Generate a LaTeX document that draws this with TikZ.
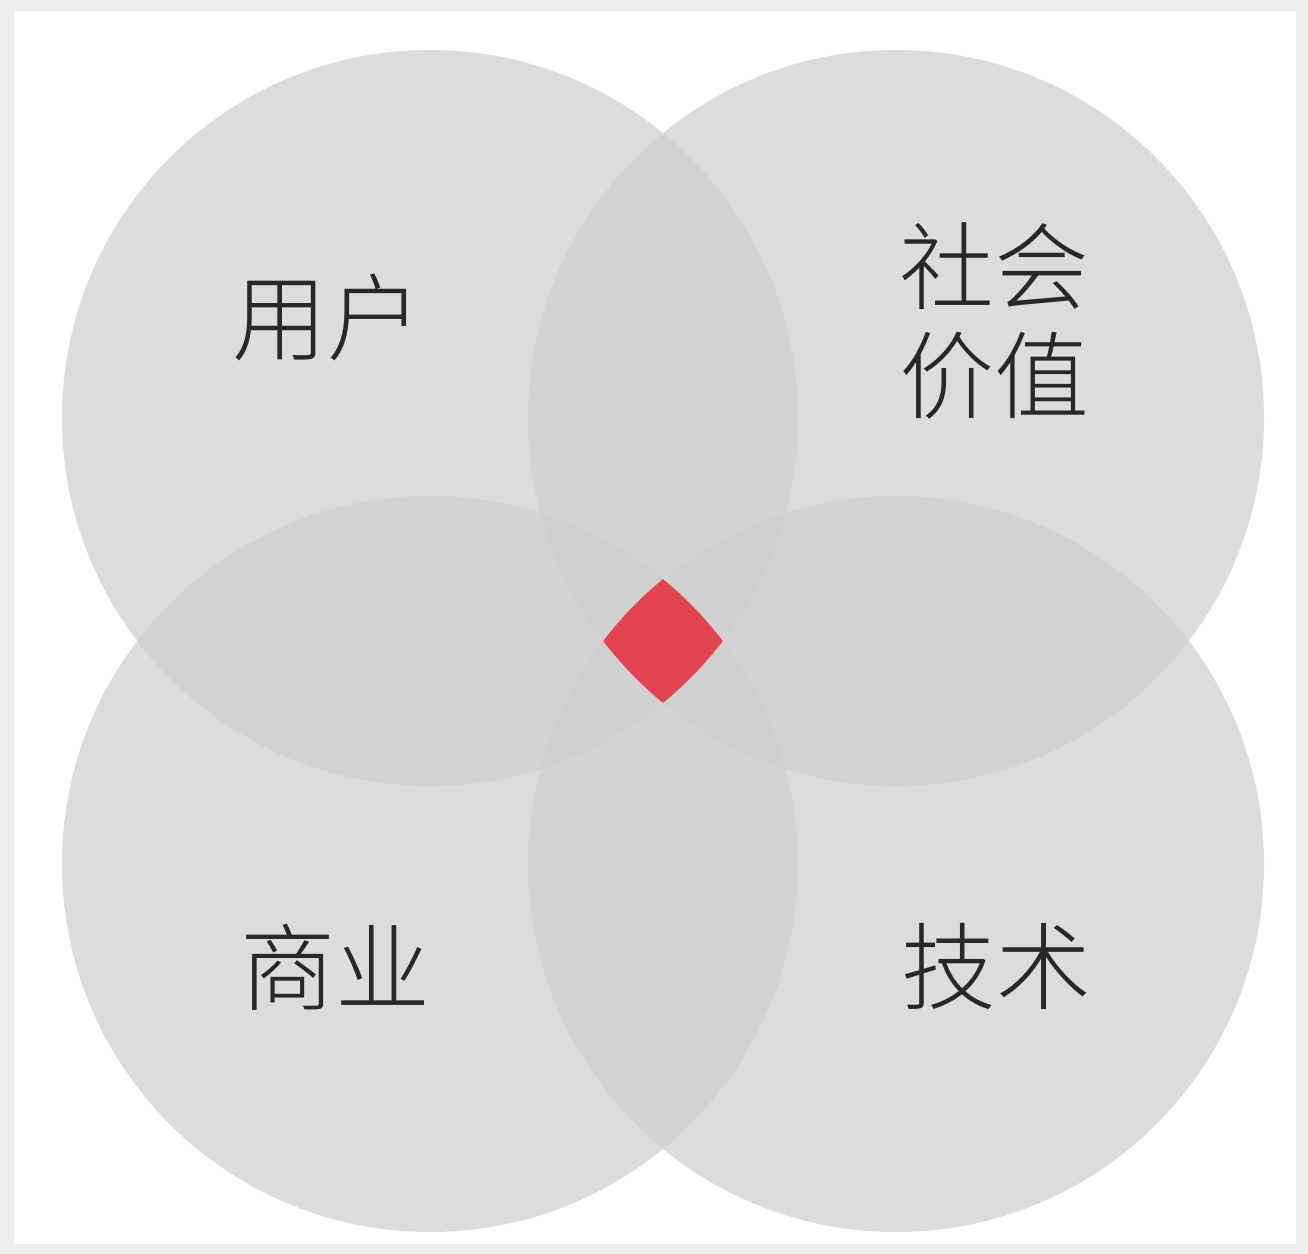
\documentclass[tikz,border=0pt]{standalone}
\usepackage{fontspec}
\newfontfamily\cjk{Noto Sans CJK SC}[UprightFont=* Light]
\usetikzlibrary{positioning}
\definecolor{ringgray}{RGB}{208,208,208}
\definecolor{coreRed}{RGB}{226,69,80}
\definecolor{textgray}{RGB}{40,40,40}
\tikzset{
    %Define style for the four circles
    ring/.style={
           circle,
           fill=ringgray,
           fill opacity=0.74,
           minimum size=7.36cm,
           inner sep=0pt},
    % Define style for labels
    lbl/.style={
           font=\cjk\fontsize{27}{31}\selectfont,
           text=textgray,
           align=center,
           inner sep=0pt}
}
\begin{document}
\begin{tikzpicture}
\fill[gray!14] (0,0) rectangle (13.08,-12.54);
\fill[white] (0.14,-0.11) rectangle (12.96,-12.44);
\useasboundingbox (0,0) rectangle (13.08,-12.54);
% circles
\node[ring] (user) at (4.30,-4.18) {};
\node[ring] (social) at (8.96,-4.18) {};
\node[ring] (business) at (4.30,-8.64) {};
\node[ring] (tech) at (8.96,-8.64) {};
% common part
\begin{scope}
\clip (user.center) circle (3.68cm);
\clip (social.center) circle (3.68cm);
\clip (business.center) circle (3.68cm);
\clip (tech.center) circle (3.68cm);
\fill[coreRed] (5.5,-5.5) rectangle (7.8,-7.3);
\end{scope}
% labels
\node[lbl] (userlbl) at (3.27,-3.17) {用户};
\node[lbl] (sociallbl) at (9.94,-3.21) {社会\\价值};
\node[lbl] (businesslbl) at (3.35,-9.67) {商业};
\node[lbl] (techlbl) at (9.96,-9.66) {技术};
\end{tikzpicture}
\end{document}
